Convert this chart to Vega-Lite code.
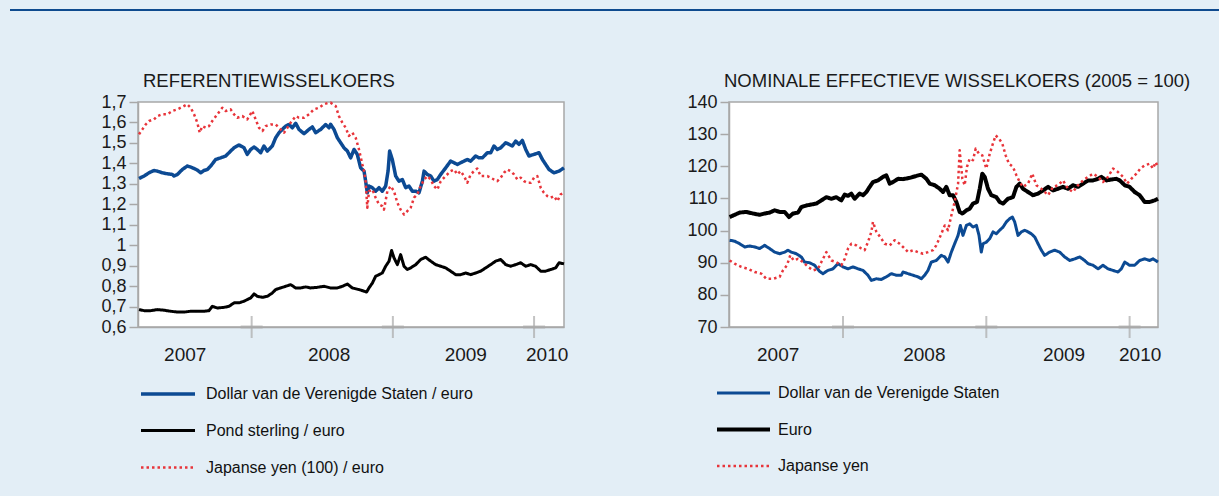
{
"$schema": "https://vega.github.io/schema/vega-lite/v6.json",
"background": "#e3eef6",
"padding": {"left": 10, "top": 9, "right": 0, "bottom": 19},
"config": {
  "font": "Liberation Sans",
  "view": {"stroke": "#a8a8a8", "strokeWidth": 1.5, "fill": "white"},
  "axis": {"grid": false, "domainColor": "#a8a8a8", "domainWidth": 1.5, "tickColor": "#a8a8a8", "tickWidth": 1.5, "tickSize": 9, "labelFont": "Liberation Sans", "labelFontSize": 18, "labelColor": "#1a1a1a", "labelPadding": 3, "labelOverlap": false},
  "axisX": {"ticks": false, "labelFontSize": 19, "labelFlush": false, "labelOverlap": false, "labelBaseline": "alphabetic"},
  "axisY": {"labelOverlap": false},
  "legend": {"orient": "none", "direction": "vertical", "symbolType": "stroke", "labelFont": "Liberation Sans", "labelFontSize": 16, "labelColor": "#111111", "labelLimit": 0, "padding": 0, "offset": 0}
},
"datasets": {
"ref": [
{"t":2007.202,"s":"usd","v":1.326},{"t":2007.238,"s":"usd","v":1.338},{"t":2007.273,"s":"usd","v":1.354},{"t":2007.308,"s":"usd","v":1.365},{"t":2007.332,"s":"usd","v":1.362},{"t":2007.367,"s":"usd","v":1.354},{"t":2007.403,"s":"usd","v":1.349},{"t":2007.438,"s":"usd","v":1.346},{"t":2007.45,"s":"usd","v":1.338},{"t":2007.474,"s":"usd","v":1.346},{"t":2007.509,"s":"usd","v":1.37},{"t":2007.544,"s":"usd","v":1.387},{"t":2007.568,"s":"usd","v":1.382},{"t":2007.592,"s":"usd","v":1.375},{"t":2007.615,"s":"usd","v":1.367},{"t":2007.639,"s":"usd","v":1.354},{"t":2007.662,"s":"usd","v":1.365},{"t":2007.686,"s":"usd","v":1.37},{"t":2007.71,"s":"usd","v":1.387},{"t":2007.745,"s":"usd","v":1.419},{"t":2007.78,"s":"usd","v":1.427},{"t":2007.816,"s":"usd","v":1.436},{"t":2007.851,"s":"usd","v":1.46},{"t":2007.875,"s":"usd","v":1.476},{"t":2007.91,"s":"usd","v":1.49},{"t":2007.946,"s":"usd","v":1.476},{"t":2007.969,"s":"usd","v":1.444},{"t":2007.993,"s":"usd","v":1.468},{"t":2008.017,"s":"usd","v":1.48},{"t":2008.04,"s":"usd","v":1.468},{"t":2008.064,"s":"usd","v":1.452},{"t":2008.087,"s":"usd","v":1.485},{"t":2008.111,"s":"usd","v":1.46},{"t":2008.146,"s":"usd","v":1.485},{"t":2008.17,"s":"usd","v":1.525},{"t":2008.194,"s":"usd","v":1.55},{"t":2008.217,"s":"usd","v":1.566},{"t":2008.241,"s":"usd","v":1.582},{"t":2008.264,"s":"usd","v":1.59},{"t":2008.288,"s":"usd","v":1.574},{"t":2008.312,"s":"usd","v":1.596},{"t":2008.335,"s":"usd","v":1.566},{"t":2008.371,"s":"usd","v":1.545},{"t":2008.406,"s":"usd","v":1.566},{"t":2008.43,"s":"usd","v":1.578},{"t":2008.453,"s":"usd","v":1.55},{"t":2008.489,"s":"usd","v":1.566},{"t":2008.524,"s":"usd","v":1.59},{"t":2008.548,"s":"usd","v":1.574},{"t":2008.559,"s":"usd","v":1.591},{"t":2008.583,"s":"usd","v":1.566},{"t":2008.607,"s":"usd","v":1.525},{"t":2008.63,"s":"usd","v":1.501},{"t":2008.654,"s":"usd","v":1.476},{"t":2008.678,"s":"usd","v":1.46},{"t":2008.701,"s":"usd","v":1.427},{"t":2008.725,"s":"usd","v":1.468},{"t":2008.748,"s":"usd","v":1.444},{"t":2008.772,"s":"usd","v":1.378},{"t":2008.796,"s":"usd","v":1.362},{"t":2008.807,"s":"usd","v":1.313},{"t":2008.819,"s":"usd","v":1.256},{"t":2008.831,"s":"usd","v":1.289},{"t":2008.855,"s":"usd","v":1.281},{"t":2008.878,"s":"usd","v":1.264},{"t":2008.902,"s":"usd","v":1.281},{"t":2008.925,"s":"usd","v":1.264},{"t":2008.949,"s":"usd","v":1.289},{"t":2008.966,"s":"usd","v":1.362},{"t":2008.977,"s":"usd","v":1.46},{"t":2008.996,"s":"usd","v":1.419},{"t":2009.02,"s":"usd","v":1.338},{"t":2009.043,"s":"usd","v":1.313},{"t":2009.067,"s":"usd","v":1.321},{"t":2009.091,"s":"usd","v":1.281},{"t":2009.114,"s":"usd","v":1.289},{"t":2009.138,"s":"usd","v":1.264},{"t":2009.162,"s":"usd","v":1.264},{"t":2009.185,"s":"usd","v":1.256},{"t":2009.209,"s":"usd","v":1.313},{"t":2009.221,"s":"usd","v":1.362},{"t":2009.244,"s":"usd","v":1.346},{"t":2009.268,"s":"usd","v":1.338},{"t":2009.291,"s":"usd","v":1.313},{"t":2009.315,"s":"usd","v":1.321},{"t":2009.339,"s":"usd","v":1.346},{"t":2009.374,"s":"usd","v":1.378},{"t":2009.409,"s":"usd","v":1.411},{"t":2009.433,"s":"usd","v":1.403},{"t":2009.457,"s":"usd","v":1.395},{"t":2009.48,"s":"usd","v":1.403},{"t":2009.504,"s":"usd","v":1.411},{"t":2009.527,"s":"usd","v":1.419},{"t":2009.551,"s":"usd","v":1.411},{"t":2009.586,"s":"usd","v":1.436},{"t":2009.61,"s":"usd","v":1.427},{"t":2009.634,"s":"usd","v":1.427},{"t":2009.669,"s":"usd","v":1.452},{"t":2009.693,"s":"usd","v":1.452},{"t":2009.716,"s":"usd","v":1.485},{"t":2009.74,"s":"usd","v":1.468},{"t":2009.764,"s":"usd","v":1.476},{"t":2009.799,"s":"usd","v":1.501},{"t":2009.823,"s":"usd","v":1.493},{"t":2009.846,"s":"usd","v":1.485},{"t":2009.87,"s":"usd","v":1.509},{"t":2009.893,"s":"usd","v":1.493},{"t":2009.917,"s":"usd","v":1.512},{"t":2009.941,"s":"usd","v":1.468},{"t":2009.964,"s":"usd","v":1.436},{"t":2010.0,"s":"usd","v":1.444},{"t":2010.035,"s":"usd","v":1.452},{"t":2010.059,"s":"usd","v":1.419},{"t":2010.082,"s":"usd","v":1.395},{"t":2010.106,"s":"usd","v":1.37},{"t":2010.141,"s":"usd","v":1.354},{"t":2010.177,"s":"usd","v":1.362},{"t":2010.212,"s":"usd","v":1.378},
{"t":2007.202,"s":"gbp","v":0.685},{"t":2007.238,"s":"gbp","v":0.68},{"t":2007.285,"s":"gbp","v":0.68},{"t":2007.332,"s":"gbp","v":0.685},{"t":2007.379,"s":"gbp","v":0.682},{"t":2007.426,"s":"gbp","v":0.677},{"t":2007.474,"s":"gbp","v":0.673},{"t":2007.521,"s":"gbp","v":0.673},{"t":2007.568,"s":"gbp","v":0.677},{"t":2007.615,"s":"gbp","v":0.677},{"t":2007.662,"s":"gbp","v":0.677},{"t":2007.698,"s":"gbp","v":0.68},{"t":2007.721,"s":"gbp","v":0.701},{"t":2007.757,"s":"gbp","v":0.693},{"t":2007.804,"s":"gbp","v":0.696},{"t":2007.839,"s":"gbp","v":0.701},{"t":2007.875,"s":"gbp","v":0.718},{"t":2007.91,"s":"gbp","v":0.718},{"t":2007.946,"s":"gbp","v":0.726},{"t":2007.969,"s":"gbp","v":0.734},{"t":2007.993,"s":"gbp","v":0.742},{"t":2008.017,"s":"gbp","v":0.762},{"t":2008.04,"s":"gbp","v":0.75},{"t":2008.076,"s":"gbp","v":0.745},{"t":2008.111,"s":"gbp","v":0.75},{"t":2008.146,"s":"gbp","v":0.766},{"t":2008.17,"s":"gbp","v":0.783},{"t":2008.205,"s":"gbp","v":0.791},{"t":2008.241,"s":"gbp","v":0.799},{"t":2008.276,"s":"gbp","v":0.807},{"t":2008.312,"s":"gbp","v":0.791},{"t":2008.347,"s":"gbp","v":0.791},{"t":2008.382,"s":"gbp","v":0.796},{"t":2008.418,"s":"gbp","v":0.791},{"t":2008.465,"s":"gbp","v":0.794},{"t":2008.512,"s":"gbp","v":0.799},{"t":2008.559,"s":"gbp","v":0.791},{"t":2008.607,"s":"gbp","v":0.791},{"t":2008.642,"s":"gbp","v":0.799},{"t":2008.678,"s":"gbp","v":0.81},{"t":2008.713,"s":"gbp","v":0.791},{"t":2008.76,"s":"gbp","v":0.783},{"t":2008.796,"s":"gbp","v":0.775},{"t":2008.814,"s":"gbp","v":0.771},{"t":2008.831,"s":"gbp","v":0.791},{"t":2008.855,"s":"gbp","v":0.815},{"t":2008.878,"s":"gbp","v":0.848},{"t":2008.902,"s":"gbp","v":0.856},{"t":2008.925,"s":"gbp","v":0.864},{"t":2008.949,"s":"gbp","v":0.897},{"t":2008.973,"s":"gbp","v":0.922},{"t":2008.991,"s":"gbp","v":0.974},{"t":2009.008,"s":"gbp","v":0.938},{"t":2009.032,"s":"gbp","v":0.905},{"t":2009.055,"s":"gbp","v":0.954},{"t":2009.079,"s":"gbp","v":0.897},{"t":2009.102,"s":"gbp","v":0.881},{"t":2009.126,"s":"gbp","v":0.889},{"t":2009.162,"s":"gbp","v":0.905},{"t":2009.197,"s":"gbp","v":0.93},{"t":2009.232,"s":"gbp","v":0.941},{"t":2009.268,"s":"gbp","v":0.922},{"t":2009.303,"s":"gbp","v":0.905},{"t":2009.339,"s":"gbp","v":0.897},{"t":2009.374,"s":"gbp","v":0.889},{"t":2009.409,"s":"gbp","v":0.873},{"t":2009.445,"s":"gbp","v":0.856},{"t":2009.48,"s":"gbp","v":0.856},{"t":2009.516,"s":"gbp","v":0.864},{"t":2009.551,"s":"gbp","v":0.856},{"t":2009.586,"s":"gbp","v":0.864},{"t":2009.622,"s":"gbp","v":0.873},{"t":2009.657,"s":"gbp","v":0.889},{"t":2009.693,"s":"gbp","v":0.905},{"t":2009.728,"s":"gbp","v":0.922},{"t":2009.764,"s":"gbp","v":0.93},{"t":2009.799,"s":"gbp","v":0.905},{"t":2009.834,"s":"gbp","v":0.897},{"t":2009.87,"s":"gbp","v":0.905},{"t":2009.905,"s":"gbp","v":0.914},{"t":2009.941,"s":"gbp","v":0.897},{"t":2009.976,"s":"gbp","v":0.905},{"t":2010.011,"s":"gbp","v":0.897},{"t":2010.047,"s":"gbp","v":0.873},{"t":2010.082,"s":"gbp","v":0.873},{"t":2010.118,"s":"gbp","v":0.881},{"t":2010.153,"s":"gbp","v":0.889},{"t":2010.177,"s":"gbp","v":0.914},{"t":2010.212,"s":"gbp","v":0.909},
{"t":2007.202,"s":"jpy","v":1.542},{"t":2007.226,"s":"jpy","v":1.566},{"t":2007.249,"s":"jpy","v":1.59},{"t":2007.273,"s":"jpy","v":1.607},{"t":2007.308,"s":"jpy","v":1.615},{"t":2007.332,"s":"jpy","v":1.631},{"t":2007.367,"s":"jpy","v":1.64},{"t":2007.403,"s":"jpy","v":1.64},{"t":2007.438,"s":"jpy","v":1.656},{"t":2007.474,"s":"jpy","v":1.664},{"t":2007.509,"s":"jpy","v":1.676},{"t":2007.544,"s":"jpy","v":1.689},{"t":2007.568,"s":"jpy","v":1.672},{"t":2007.592,"s":"jpy","v":1.64},{"t":2007.615,"s":"jpy","v":1.599},{"t":2007.632,"s":"jpy","v":1.55},{"t":2007.651,"s":"jpy","v":1.582},{"t":2007.674,"s":"jpy","v":1.574},{"t":2007.698,"s":"jpy","v":1.582},{"t":2007.721,"s":"jpy","v":1.607},{"t":2007.757,"s":"jpy","v":1.64},{"t":2007.792,"s":"jpy","v":1.672},{"t":2007.816,"s":"jpy","v":1.656},{"t":2007.851,"s":"jpy","v":1.664},{"t":2007.875,"s":"jpy","v":1.64},{"t":2007.898,"s":"jpy","v":1.623},{"t":2007.934,"s":"jpy","v":1.631},{"t":2007.969,"s":"jpy","v":1.615},{"t":2008.005,"s":"jpy","v":1.656},{"t":2008.028,"s":"jpy","v":1.615},{"t":2008.052,"s":"jpy","v":1.574},{"t":2008.076,"s":"jpy","v":1.558},{"t":2008.099,"s":"jpy","v":1.582},{"t":2008.135,"s":"jpy","v":1.59},{"t":2008.17,"s":"jpy","v":1.59},{"t":2008.205,"s":"jpy","v":1.566},{"t":2008.229,"s":"jpy","v":1.55},{"t":2008.253,"s":"jpy","v":1.574},{"t":2008.276,"s":"jpy","v":1.599},{"t":2008.312,"s":"jpy","v":1.631},{"t":2008.335,"s":"jpy","v":1.623},{"t":2008.371,"s":"jpy","v":1.623},{"t":2008.406,"s":"jpy","v":1.64},{"t":2008.441,"s":"jpy","v":1.664},{"t":2008.477,"s":"jpy","v":1.672},{"t":2008.512,"s":"jpy","v":1.689},{"t":2008.548,"s":"jpy","v":1.697},{"t":2008.559,"s":"jpy","v":1.697},{"t":2008.595,"s":"jpy","v":1.68},{"t":2008.618,"s":"jpy","v":1.631},{"t":2008.642,"s":"jpy","v":1.599},{"t":2008.666,"s":"jpy","v":1.574},{"t":2008.689,"s":"jpy","v":1.534},{"t":2008.713,"s":"jpy","v":1.55},{"t":2008.737,"s":"jpy","v":1.525},{"t":2008.76,"s":"jpy","v":1.468},{"t":2008.784,"s":"jpy","v":1.395},{"t":2008.796,"s":"jpy","v":1.362},{"t":2008.807,"s":"jpy","v":1.313},{"t":2008.819,"s":"jpy","v":1.183},{"t":2008.831,"s":"jpy","v":1.264},{"t":2008.855,"s":"jpy","v":1.272},{"t":2008.878,"s":"jpy","v":1.232},{"t":2008.902,"s":"jpy","v":1.199},{"t":2008.925,"s":"jpy","v":1.191},{"t":2008.937,"s":"jpy","v":1.174},{"t":2008.961,"s":"jpy","v":1.264},{"t":2008.984,"s":"jpy","v":1.289},{"t":2009.008,"s":"jpy","v":1.264},{"t":2009.032,"s":"jpy","v":1.207},{"t":2009.055,"s":"jpy","v":1.174},{"t":2009.079,"s":"jpy","v":1.15},{"t":2009.102,"s":"jpy","v":1.166},{"t":2009.126,"s":"jpy","v":1.183},{"t":2009.15,"s":"jpy","v":1.232},{"t":2009.173,"s":"jpy","v":1.248},{"t":2009.197,"s":"jpy","v":1.289},{"t":2009.221,"s":"jpy","v":1.321},{"t":2009.244,"s":"jpy","v":1.338},{"t":2009.268,"s":"jpy","v":1.321},{"t":2009.291,"s":"jpy","v":1.289},{"t":2009.315,"s":"jpy","v":1.272},{"t":2009.339,"s":"jpy","v":1.313},{"t":2009.374,"s":"jpy","v":1.338},{"t":2009.409,"s":"jpy","v":1.362},{"t":2009.433,"s":"jpy","v":1.37},{"t":2009.457,"s":"jpy","v":1.346},{"t":2009.48,"s":"jpy","v":1.362},{"t":2009.504,"s":"jpy","v":1.338},{"t":2009.527,"s":"jpy","v":1.305},{"t":2009.551,"s":"jpy","v":1.346},{"t":2009.575,"s":"jpy","v":1.362},{"t":2009.598,"s":"jpy","v":1.375},{"t":2009.622,"s":"jpy","v":1.338},{"t":2009.645,"s":"jpy","v":1.338},{"t":2009.669,"s":"jpy","v":1.338},{"t":2009.693,"s":"jpy","v":1.33},{"t":2009.716,"s":"jpy","v":1.321},{"t":2009.74,"s":"jpy","v":1.313},{"t":2009.764,"s":"jpy","v":1.33},{"t":2009.787,"s":"jpy","v":1.354},{"t":2009.811,"s":"jpy","v":1.37},{"t":2009.834,"s":"jpy","v":1.362},{"t":2009.858,"s":"jpy","v":1.346},{"t":2009.882,"s":"jpy","v":1.321},{"t":2009.905,"s":"jpy","v":1.33},{"t":2009.929,"s":"jpy","v":1.313},{"t":2009.952,"s":"jpy","v":1.305},{"t":2009.976,"s":"jpy","v":1.305},{"t":2010.0,"s":"jpy","v":1.33},{"t":2010.023,"s":"jpy","v":1.338},{"t":2010.047,"s":"jpy","v":1.281},{"t":2010.07,"s":"jpy","v":1.256},{"t":2010.094,"s":"jpy","v":1.24},{"t":2010.118,"s":"jpy","v":1.232},{"t":2010.141,"s":"jpy","v":1.24},{"t":2010.165,"s":"jpy","v":1.215},{"t":2010.188,"s":"jpy","v":1.248},{"t":2010.212,"s":"jpy","v":1.256}
],
"neer": [
{"t":2007.209,"s":"eur","v":104.2},{"t":2007.244,"s":"eur","v":104.9},{"t":2007.279,"s":"eur","v":105.6},{"t":2007.325,"s":"eur","v":105.8},{"t":2007.372,"s":"eur","v":105.3},{"t":2007.419,"s":"eur","v":104.9},{"t":2007.453,"s":"eur","v":105.3},{"t":2007.488,"s":"eur","v":105.6},{"t":2007.523,"s":"eur","v":106.3},{"t":2007.558,"s":"eur","v":105.8},{"t":2007.593,"s":"eur","v":105.8},{"t":2007.623,"s":"eur","v":104.2},{"t":2007.651,"s":"eur","v":105.3},{"t":2007.686,"s":"eur","v":105.6},{"t":2007.709,"s":"eur","v":107.3},{"t":2007.744,"s":"eur","v":107.8},{"t":2007.779,"s":"eur","v":108.1},{"t":2007.814,"s":"eur","v":108.4},{"t":2007.849,"s":"eur","v":109.4},{"t":2007.884,"s":"eur","v":110.4},{"t":2007.919,"s":"eur","v":109.9},{"t":2007.953,"s":"eur","v":110.4},{"t":2007.988,"s":"eur","v":109.4},{"t":2008.012,"s":"eur","v":111.2},{"t":2008.035,"s":"eur","v":110.8},{"t":2008.058,"s":"eur","v":111.5},{"t":2008.081,"s":"eur","v":109.9},{"t":2008.116,"s":"eur","v":111.5},{"t":2008.14,"s":"eur","v":111},{"t":2008.163,"s":"eur","v":112},{"t":2008.186,"s":"eur","v":113.6},{"t":2008.209,"s":"eur","v":115.1},{"t":2008.244,"s":"eur","v":115.6},{"t":2008.279,"s":"eur","v":116.7},{"t":2008.302,"s":"eur","v":117.2},{"t":2008.326,"s":"eur","v":114.6},{"t":2008.349,"s":"eur","v":115.1},{"t":2008.384,"s":"eur","v":116.1},{"t":2008.419,"s":"eur","v":116},{"t":2008.465,"s":"eur","v":116.4},{"t":2008.512,"s":"eur","v":117},{"t":2008.547,"s":"eur","v":117.4},{"t":2008.582,"s":"eur","v":116.1},{"t":2008.605,"s":"eur","v":114.6},{"t":2008.64,"s":"eur","v":114.1},{"t":2008.675,"s":"eur","v":113},{"t":2008.698,"s":"eur","v":112},{"t":2008.721,"s":"eur","v":113.6},{"t":2008.744,"s":"eur","v":111},{"t":2008.768,"s":"eur","v":111},{"t":2008.791,"s":"eur","v":108.9},{"t":2008.814,"s":"eur","v":105.8},{"t":2008.833,"s":"eur","v":105.3},{"t":2008.861,"s":"eur","v":106.3},{"t":2008.884,"s":"eur","v":106.8},{"t":2008.907,"s":"eur","v":108.4},{"t":2008.935,"s":"eur","v":108.9},{"t":2008.954,"s":"eur","v":113},{"t":2008.972,"s":"eur","v":117.7},{"t":2008.989,"s":"eur","v":116.7},{"t":2009.012,"s":"eur","v":113},{"t":2009.035,"s":"eur","v":111},{"t":2009.07,"s":"eur","v":110.4},{"t":2009.093,"s":"eur","v":108.9},{"t":2009.117,"s":"eur","v":108.4},{"t":2009.151,"s":"eur","v":109.9},{"t":2009.186,"s":"eur","v":110.4},{"t":2009.21,"s":"eur","v":113.6},{"t":2009.233,"s":"eur","v":114.6},{"t":2009.256,"s":"eur","v":113},{"t":2009.291,"s":"eur","v":112},{"t":2009.326,"s":"eur","v":111},{"t":2009.361,"s":"eur","v":111.5},{"t":2009.396,"s":"eur","v":112.5},{"t":2009.431,"s":"eur","v":113.6},{"t":2009.466,"s":"eur","v":112.5},{"t":2009.5,"s":"eur","v":113},{"t":2009.535,"s":"eur","v":113.6},{"t":2009.57,"s":"eur","v":113},{"t":2009.605,"s":"eur","v":114.1},{"t":2009.64,"s":"eur","v":113.6},{"t":2009.675,"s":"eur","v":114.6},{"t":2009.71,"s":"eur","v":115.6},{"t":2009.745,"s":"eur","v":115.6},{"t":2009.78,"s":"eur","v":116.1},{"t":2009.803,"s":"eur","v":116.7},{"t":2009.838,"s":"eur","v":115.6},{"t":2009.873,"s":"eur","v":115.9},{"t":2009.907,"s":"eur","v":116.1},{"t":2009.931,"s":"eur","v":115.6},{"t":2009.966,"s":"eur","v":114.1},{"t":2010.0,"s":"eur","v":113.6},{"t":2010.035,"s":"eur","v":112},{"t":2010.07,"s":"eur","v":111},{"t":2010.105,"s":"eur","v":108.9},{"t":2010.14,"s":"eur","v":108.9},{"t":2010.175,"s":"eur","v":109.4},{"t":2010.198,"s":"eur","v":109.9},
{"t":2007.209,"s":"usd","v":97},{"t":2007.244,"s":"usd","v":96.7},{"t":2007.279,"s":"usd","v":95.9},{"t":2007.314,"s":"usd","v":94.9},{"t":2007.349,"s":"usd","v":95.2},{"t":2007.384,"s":"usd","v":94.9},{"t":2007.419,"s":"usd","v":94.4},{"t":2007.453,"s":"usd","v":95.4},{"t":2007.488,"s":"usd","v":94.4},{"t":2007.523,"s":"usd","v":93.3},{"t":2007.558,"s":"usd","v":92.8},{"t":2007.593,"s":"usd","v":93.3},{"t":2007.616,"s":"usd","v":93.9},{"t":2007.639,"s":"usd","v":93.3},{"t":2007.674,"s":"usd","v":92.8},{"t":2007.709,"s":"usd","v":91.8},{"t":2007.732,"s":"usd","v":90.2},{"t":2007.767,"s":"usd","v":90},{"t":2007.802,"s":"usd","v":89.2},{"t":2007.837,"s":"usd","v":87.3},{"t":2007.86,"s":"usd","v":86.6},{"t":2007.895,"s":"usd","v":87.6},{"t":2007.93,"s":"usd","v":88.1},{"t":2007.965,"s":"usd","v":89.7},{"t":2008.0,"s":"usd","v":88.7},{"t":2008.035,"s":"usd","v":88.1},{"t":2008.07,"s":"usd","v":88.7},{"t":2008.105,"s":"usd","v":88.1},{"t":2008.14,"s":"usd","v":87.6},{"t":2008.174,"s":"usd","v":86.1},{"t":2008.198,"s":"usd","v":84.5},{"t":2008.233,"s":"usd","v":85},{"t":2008.267,"s":"usd","v":84.8},{"t":2008.302,"s":"usd","v":85.6},{"t":2008.337,"s":"usd","v":86.6},{"t":2008.372,"s":"usd","v":86.1},{"t":2008.407,"s":"usd","v":86.1},{"t":2008.419,"s":"usd","v":87.1},{"t":2008.454,"s":"usd","v":86.6},{"t":2008.489,"s":"usd","v":86.1},{"t":2008.523,"s":"usd","v":85.6},{"t":2008.547,"s":"usd","v":85},{"t":2008.57,"s":"usd","v":86.1},{"t":2008.593,"s":"usd","v":87.6},{"t":2008.616,"s":"usd","v":90.2},{"t":2008.651,"s":"usd","v":90.7},{"t":2008.686,"s":"usd","v":92.3},{"t":2008.71,"s":"usd","v":91.8},{"t":2008.733,"s":"usd","v":90.2},{"t":2008.756,"s":"usd","v":93.3},{"t":2008.779,"s":"usd","v":95.9},{"t":2008.803,"s":"usd","v":98.5},{"t":2008.819,"s":"usd","v":101.6},{"t":2008.837,"s":"usd","v":98.5},{"t":2008.861,"s":"usd","v":101.6},{"t":2008.884,"s":"usd","v":102.1},{"t":2008.907,"s":"usd","v":101.1},{"t":2008.931,"s":"usd","v":101.6},{"t":2008.949,"s":"usd","v":98.5},{"t":2008.965,"s":"usd","v":93.3},{"t":2008.977,"s":"usd","v":95.9},{"t":2009.0,"s":"usd","v":96.4},{"t":2009.024,"s":"usd","v":97.5},{"t":2009.047,"s":"usd","v":99.6},{"t":2009.07,"s":"usd","v":99},{"t":2009.093,"s":"usd","v":100.1},{"t":2009.117,"s":"usd","v":101.1},{"t":2009.14,"s":"usd","v":102.7},{"t":2009.163,"s":"usd","v":103.7},{"t":2009.182,"s":"usd","v":104.2},{"t":2009.198,"s":"usd","v":102.7},{"t":2009.221,"s":"usd","v":98.5},{"t":2009.245,"s":"usd","v":99.6},{"t":2009.268,"s":"usd","v":100.1},{"t":2009.291,"s":"usd","v":99.6},{"t":2009.314,"s":"usd","v":99},{"t":2009.338,"s":"usd","v":98},{"t":2009.361,"s":"usd","v":95.9},{"t":2009.384,"s":"usd","v":93.9},{"t":2009.407,"s":"usd","v":92.3},{"t":2009.442,"s":"usd","v":93.3},{"t":2009.477,"s":"usd","v":93.9},{"t":2009.512,"s":"usd","v":93.3},{"t":2009.547,"s":"usd","v":91.8},{"t":2009.582,"s":"usd","v":90.7},{"t":2009.617,"s":"usd","v":91.2},{"t":2009.652,"s":"usd","v":91.8},{"t":2009.686,"s":"usd","v":90.7},{"t":2009.71,"s":"usd","v":89.7},{"t":2009.745,"s":"usd","v":89.2},{"t":2009.78,"s":"usd","v":88.1},{"t":2009.814,"s":"usd","v":89.2},{"t":2009.849,"s":"usd","v":88.1},{"t":2009.884,"s":"usd","v":87.6},{"t":2009.919,"s":"usd","v":87.1},{"t":2009.942,"s":"usd","v":88.1},{"t":2009.966,"s":"usd","v":90.2},{"t":2010.0,"s":"usd","v":89.2},{"t":2010.035,"s":"usd","v":89.2},{"t":2010.07,"s":"usd","v":90.7},{"t":2010.105,"s":"usd","v":91.2},{"t":2010.14,"s":"usd","v":90.7},{"t":2010.163,"s":"usd","v":91.2},{"t":2010.198,"s":"usd","v":90.2},
{"t":2007.209,"s":"jpy","v":90.7},{"t":2007.244,"s":"jpy","v":89.7},{"t":2007.291,"s":"jpy","v":88.7},{"t":2007.337,"s":"jpy","v":88.1},{"t":2007.384,"s":"jpy","v":87.1},{"t":2007.43,"s":"jpy","v":86.6},{"t":2007.465,"s":"jpy","v":85},{"t":2007.512,"s":"jpy","v":85},{"t":2007.558,"s":"jpy","v":85.6},{"t":2007.581,"s":"jpy","v":87.6},{"t":2007.609,"s":"jpy","v":89.2},{"t":2007.632,"s":"jpy","v":92.3},{"t":2007.656,"s":"jpy","v":90.7},{"t":2007.686,"s":"jpy","v":91.2},{"t":2007.721,"s":"jpy","v":90.2},{"t":2007.756,"s":"jpy","v":88.7},{"t":2007.791,"s":"jpy","v":87.6},{"t":2007.826,"s":"jpy","v":88.1},{"t":2007.849,"s":"jpy","v":90.2},{"t":2007.884,"s":"jpy","v":93.3},{"t":2007.919,"s":"jpy","v":90.7},{"t":2007.953,"s":"jpy","v":90.2},{"t":2007.988,"s":"jpy","v":89.2},{"t":2008.012,"s":"jpy","v":91.2},{"t":2008.035,"s":"jpy","v":94.4},{"t":2008.058,"s":"jpy","v":95.9},{"t":2008.093,"s":"jpy","v":95.4},{"t":2008.128,"s":"jpy","v":94.4},{"t":2008.151,"s":"jpy","v":93.9},{"t":2008.174,"s":"jpy","v":96.4},{"t":2008.198,"s":"jpy","v":99.6},{"t":2008.209,"s":"jpy","v":102.7},{"t":2008.233,"s":"jpy","v":99.6},{"t":2008.267,"s":"jpy","v":97.5},{"t":2008.291,"s":"jpy","v":95.9},{"t":2008.326,"s":"jpy","v":95.4},{"t":2008.361,"s":"jpy","v":97},{"t":2008.395,"s":"jpy","v":95.9},{"t":2008.419,"s":"jpy","v":94.9},{"t":2008.454,"s":"jpy","v":93.3},{"t":2008.489,"s":"jpy","v":93.9},{"t":2008.523,"s":"jpy","v":93.3},{"t":2008.558,"s":"jpy","v":92.8},{"t":2008.593,"s":"jpy","v":93.3},{"t":2008.628,"s":"jpy","v":93.9},{"t":2008.651,"s":"jpy","v":95.4},{"t":2008.686,"s":"jpy","v":99},{"t":2008.71,"s":"jpy","v":101.6},{"t":2008.733,"s":"jpy","v":100.1},{"t":2008.756,"s":"jpy","v":104.7},{"t":2008.779,"s":"jpy","v":108.9},{"t":2008.803,"s":"jpy","v":114.6},{"t":2008.814,"s":"jpy","v":125},{"t":2008.833,"s":"jpy","v":116.1},{"t":2008.849,"s":"jpy","v":114.1},{"t":2008.865,"s":"jpy","v":119.8},{"t":2008.884,"s":"jpy","v":122.4},{"t":2008.907,"s":"jpy","v":121.9},{"t":2008.926,"s":"jpy","v":125.5},{"t":2008.949,"s":"jpy","v":123.9},{"t":2008.972,"s":"jpy","v":123.4},{"t":2009.0,"s":"jpy","v":119.3},{"t":2009.024,"s":"jpy","v":123.9},{"t":2009.042,"s":"jpy","v":126.5},{"t":2009.065,"s":"jpy","v":129.6},{"t":2009.089,"s":"jpy","v":128.6},{"t":2009.112,"s":"jpy","v":127},{"t":2009.135,"s":"jpy","v":123.4},{"t":2009.158,"s":"jpy","v":120.8},{"t":2009.186,"s":"jpy","v":119.8},{"t":2009.21,"s":"jpy","v":117.2},{"t":2009.233,"s":"jpy","v":115.1},{"t":2009.256,"s":"jpy","v":113.6},{"t":2009.291,"s":"jpy","v":114.6},{"t":2009.321,"s":"jpy","v":117.7},{"t":2009.349,"s":"jpy","v":114.1},{"t":2009.384,"s":"jpy","v":113},{"t":2009.431,"s":"jpy","v":111},{"t":2009.466,"s":"jpy","v":113.6},{"t":2009.5,"s":"jpy","v":114.1},{"t":2009.535,"s":"jpy","v":115.6},{"t":2009.57,"s":"jpy","v":113},{"t":2009.605,"s":"jpy","v":112},{"t":2009.64,"s":"jpy","v":114.1},{"t":2009.675,"s":"jpy","v":115.6},{"t":2009.71,"s":"jpy","v":116.7},{"t":2009.745,"s":"jpy","v":117.7},{"t":2009.78,"s":"jpy","v":116.7},{"t":2009.814,"s":"jpy","v":115.1},{"t":2009.849,"s":"jpy","v":116.7},{"t":2009.884,"s":"jpy","v":119.3},{"t":2009.919,"s":"jpy","v":118.2},{"t":2009.954,"s":"jpy","v":116.7},{"t":2009.982,"s":"jpy","v":114.6},{"t":2010.012,"s":"jpy","v":116.1},{"t":2010.047,"s":"jpy","v":117.7},{"t":2010.075,"s":"jpy","v":119.3},{"t":2010.105,"s":"jpy","v":120.3},{"t":2010.14,"s":"jpy","v":120.8},{"t":2010.163,"s":"jpy","v":119.3},{"t":2010.182,"s":"jpy","v":121.3},{"t":2010.198,"s":"jpy","v":119.8}
]
},
"vconcat": [
  {
    "data": {"values": []},
    "mark": {"type": "point", "opacity": 0},
    "width": 1209,
    "height": 2,
    "view": {"fill": "#0e4a8e", "stroke": null}
  },
  {
    "hconcat": [
      {
        "data": {"values": []},
        "mark": {"type": "point", "opacity": 0},
        "width": 1,
        "height": 225,
        "view": {"fill": null, "stroke": null}
      },
      {
        "hconcat": [
          {
            "width": 426,
            "height": 225,
            "title": {"text": "REFERENTIEWISSELKOERS", "anchor": "start", "frame": "group", "dx": 5, "offset": -12, "baseline": "alphabetic", "font": "Liberation Sans", "fontSize": 18.5, "fontWeight": "normal", "color": "#1a1a1a"},
            "layer": [
              {
                "data": {"name": "ref"},
                "mark": {"type": "line", "strokeCap": "butt", "strokeJoin": "round"},
                "encoding": {
                  "x": {"field": "t", "type": "quantitative", "scale": {"domain": [2007.195, 2010.212], "nice": false, "zero": false}, "axis": {"title": null, "values": [2007.526, 2008.545, 2009.513, 2010.089], "tickCount": 30, "labelExpr": "'' + floor(datum.value)", "labelPadding": 33.5, "labelOverlap": false}},
                  "y": {"field": "v", "type": "quantitative", "scale": {"domain": [0.6, 1.7], "nice": false, "zero": false}, "axis": {"title": null, "values": [0.6, 0.7, 0.8, 0.9, 1.0, 1.1, 1.2, 1.3, 1.4, 1.5, 1.6, 1.7], "tickCount": 30, "labelExpr": "replace(format(datum.value, '.1~f'), '.', ',')", "labelOverlap": false}},
                  "color": {"field": "s", "type": "nominal", "scale": {"domain": ["usd", "gbp", "jpy"], "range": ["#0c4a93", "#000000", "#e8343a"]},
                    "legend": {"title": null, "legendX": 1, "legendY": 263, "rowPadding": 0, "symbolSize": 2916, "labelOffset": 9, "labelExpr": "datum.label == 'usd' ? 'Dollar van de Verenigde Staten / euro' : datum.label == 'gbp' ? 'Pond sterling / euro' : 'Japanse yen (100) / euro'"}},
                  "strokeDash": {"field": "s", "type": "nominal", "scale": {"domain": ["usd", "gbp", "jpy"], "range": [[1, 0], [1, 0], [2.5, 3]]}},
                  "strokeWidth": {"field": "s", "type": "nominal", "scale": {"type": "ordinal", "domain": ["usd", "gbp", "jpy"], "range": [3.5, 3, 2.5]}}
                }
              },
              {
                "data": {"values": [{"t": 2008}, {"t": 2009}, {"t": 2010}]},
                "mark": {"type": "tick", "orient": "vertical", "size": 22, "thickness": 2, "color": "#aaaaaa"},
                "encoding": {"x": {"field": "t", "type": "quantitative", "axis": {"title": null}}, "y": {"datum": 0.6}}
              },
              {
                "data": {"values": [{"t": 2008}, {"t": 2009}, {"t": 2010}]},
                "mark": {"type": "tick", "orient": "horizontal", "size": 22, "thickness": 3, "color": "#aaaaaa"},
                "encoding": {"x": {"field": "t", "type": "quantitative", "axis": {"title": null}}, "y": {"datum": 0.6}}
              }
            ]
          },
          {
            "width": 429,
            "height": 225,
            "title": {"text": "NOMINALE EFFECTIEVE WISSELKOERS (2005 = 100)", "anchor": "start", "frame": "group", "dx": -5, "offset": -12, "baseline": "alphabetic", "font": "Liberation Sans", "fontSize": 18.5, "fontWeight": "normal", "color": "#1a1a1a"},
            "layer": [
              {
                "data": {"name": "neer"},
                "mark": {"type": "line", "strokeCap": "butt", "strokeJoin": "round"},
                "encoding": {
                  "x": {"field": "t", "type": "quantitative", "scale": {"domain": [2007.2045, 2010.198], "nice": false, "zero": false}, "axis": {"title": null, "values": [2007.544, 2008.564, 2009.539, 2010.07], "tickCount": 30, "labelExpr": "'' + floor(datum.value)", "labelPadding": 33.5, "labelOverlap": false}},
                  "y": {"field": "v", "type": "quantitative", "scale": {"domain": [70, 140], "nice": false, "zero": false}, "axis": {"title": null, "values": [70, 80, 90, 100, 110, 120, 130, 140], "tickCount": 30, "labelOverlap": false}},
                  "color": {"field": "s", "type": "nominal", "scale": {"domain": ["usd", "eur", "jpy"], "range": ["#0c4a93", "#000000", "#e8343a"]},
                    "legend": {"title": null, "legendX": -14, "legendY": 263, "rowPadding": 0, "symbolSize": 2809, "labelOffset": 6, "labelExpr": "datum.label == 'usd' ? 'Dollar van de Verenigde Staten' : datum.label == 'eur' ? 'Euro' : 'Japanse yen'"}},
                  "strokeDash": {"field": "s", "type": "nominal", "scale": {"domain": ["usd", "eur", "jpy"], "range": [[1, 0], [1, 0], [2.5, 3]]}},
                  "strokeWidth": {"field": "s", "type": "nominal", "scale": {"type": "ordinal", "domain": ["usd", "eur", "jpy"], "range": [3, 4, 2.5]}}
                }
              },
              {
                "data": {"values": [{"t": 2008}, {"t": 2009}, {"t": 2010}]},
                "mark": {"type": "tick", "orient": "vertical", "size": 22, "thickness": 2, "color": "#aaaaaa"},
                "encoding": {"x": {"field": "t", "type": "quantitative", "axis": {"title": null}}, "y": {"datum": 70}}
              },
              {
                "data": {"values": [{"t": 2008}, {"t": 2009}, {"t": 2010}]},
                "mark": {"type": "tick", "orient": "horizontal", "size": 22, "thickness": 3, "color": "#aaaaaa"},
                "encoding": {"x": {"field": "t", "type": "quantitative", "axis": {"title": null}}, "y": {"datum": 70}}
              }
            ]
          }
        ],
        "spacing": 117,
        "resolve": {"scale": {"color": "independent", "strokeDash": "independent", "strokeWidth": "independent"}, "legend": {"color": "independent", "strokeDash": "independent", "strokeWidth": "independent"}}
      }
    ],
    "spacing": 89
  }
],
"spacing": 59
}
